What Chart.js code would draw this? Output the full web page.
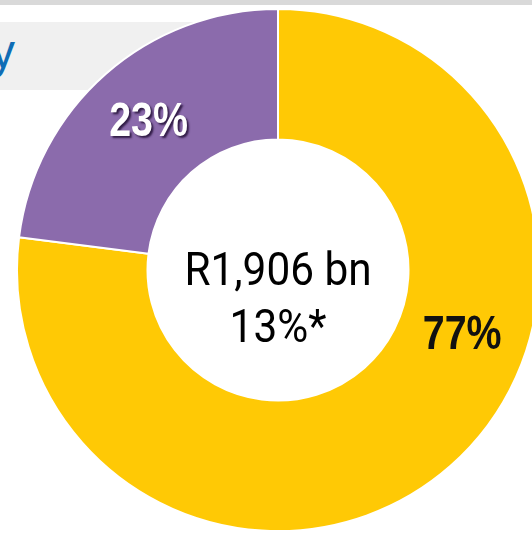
<!DOCTYPE html>
<html>
<head>
<meta charset="utf-8">
<script src="https://cdn.jsdelivr.net/npm/chart.js@4"></script>
<style>
  html, body { margin: 0; padding: 0; width: 532px; height: 533px; overflow: hidden; background: #ffffff; }
  #topbar { position: absolute; left: 0; top: 0; width: 532px; height: 5px; background: #d9d9d9; }
  #titlebox { position: absolute; left: 0; top: 22px; width: 260px; height: 68px; background: #f0f0f0; overflow: hidden; }
  #titletext { position: absolute; right: 245px; top: 2px; font-family: "Liberation Sans", Arial, sans-serif; font-size: 48px; color: #0f6db5; white-space: nowrap; }
  #wrap { position: absolute; left: 16px; top: 8px; width: 524px; height: 524px; }
</style>
</head>
<body>
<div id="topbar"></div>
<div id="titlebox"><span id="titletext">Economy</span></div>
<div id="wrap"><canvas id="c" width="524" height="524"></canvas></div>
<script>
// ---- data ----
const categories = ["Segment A", "Segment B"];
const shareValues = [77, 23];
const sliceColors = ["#ffc905", "#8b6bac"];
const centerLines = ["R1,906 bn", "13%*"];

const labelPlugin = {
  id: "sliceLabels",
  afterDatasetsDraw(chart, args, opts) {
    const ctx = chart.ctx;
    const meta = chart.getDatasetMeta(0);
    meta.data.forEach((arc, i) => {
      const p = arc.getProps(["x", "y", "startAngle", "endAngle", "innerRadius", "outerRadius"], true);
      const frac = opts.along[i];
      const a = p.startAngle + (p.endAngle - p.startAngle) * frac;
      const r = (p.innerRadius + p.outerRadius) / 2;
      const x = p.x + Math.cos(a) * r;
      const y = p.y + Math.sin(a) * r;
      const txt = shareValues[i] + "%";
      ctx.save();
      ctx.translate(x, y);
      ctx.scale(0.82, 1);
      ctx.font = "bold 48px 'Liberation Sans', Arial, sans-serif";
      ctx.textAlign = "center";
      ctx.textBaseline = "middle";
      if (opts.shadow[i]) {
        ctx.shadowColor = "rgba(40,20,60,0.9)";
        ctx.shadowOffsetX = 2;
        ctx.shadowOffsetY = 2;
        ctx.shadowBlur = 2;
      }
      ctx.fillStyle = opts.colors[i];
      ctx.fillText(txt, 0, 0);
      ctx.restore();
    });
    // center text
    const arc0 = meta.data[0];
    const cx = arc0.x, cy = arc0.y;
    ctx.save();
    ctx.fillStyle = "#000000";
    ctx.textAlign = "center";
    ctx.textBaseline = "alphabetic";
    ctx.font = "46px Roboto, sans-serif";
    centerLines.forEach((line, i) => {
      ctx.save();
      ctx.translate(cx, cy + opts.centerBaselines[i]);
      ctx.scale(0.92, 1);
      ctx.fillText(line, 0, 0);
      ctx.restore();
    });
    ctx.restore();
  }
};

new Chart(document.getElementById("c"), {
  type: "doughnut",
  data: {
    labels: categories,
    datasets: [{
      data: shareValues,
      backgroundColor: sliceColors,
      borderColor: "#ffffff",
      borderWidth: 2
    }]
  },
  options: {
    responsive: false,
    maintainAspectRatio: false,
    animation: false,
    cutout: "50%",
    layout: { padding: 0 },
    plugins: {
      legend: { display: false },
      tooltip: { enabled: false },
      sliceLabels: {
        along: [0.396, 0.5],
        colors: ["#111111", "#ffffff"],
        shadow: [false, true],
        centerBaselines: [15, 72]
      }
    }
  },
  plugins: [labelPlugin]
});
</script>
</body>
</html>
